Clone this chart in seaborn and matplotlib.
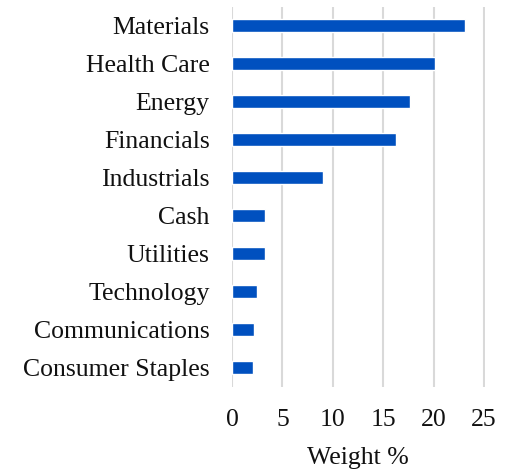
import matplotlib
matplotlib.use("Agg")
import matplotlib.pyplot as plt
import seaborn as sns
import pandas as pd

# sector weights
sectors = ['Materials', 'Health Care', 'Energy', 'Financials', 'Industrials',
           'Cash', 'Utilities', 'Technology', 'Communications', 'Consumer Staples']
weights = [23.1, 20.1, 17.7, 16.3, 9.0, 3.3, 3.3, 2.45, 2.15, 2.05]
xticks = [0, 5, 10, 15, 20, 25]

df = pd.DataFrame({'sector': sectors, 'weight': weights})

sns.set_theme(style="white")
plt.rcParams['font.family'] = ['Liberation Serif', 'DejaVu Serif']

fig = plt.figure(figsize=(5.08, 4.69), dpi=100)
ax = fig.add_axes([232 / 508, 1 - 386.5 / 469, (484.5 - 232) / 508, 380 / 469])

sns.barplot(data=df, x='weight', y='sector', orient='h', color='#0050BF',
            saturation=1, width=0.34, ax=ax, zorder=3)

ax.set_xlim(0, 25.05)
ax.set_xticks(xticks)
ax.xaxis.grid(True, color='#d9d9d9', linewidth=1.5, zorder=0)
ax.set_axisbelow(True)
for s in ax.spines.values():
    s.set_visible(False)

ax.tick_params(axis='both', length=0, labelsize=18.5, colors='#111111')
ax.tick_params(axis='y', pad=16)
ax.tick_params(axis='x', pad=16)
ax.set_ylabel('')
ax.set_xlabel('Weight %', fontsize=18.5, color='#111111', labelpad=12)

fig.savefig('out.png', dpi=100)
